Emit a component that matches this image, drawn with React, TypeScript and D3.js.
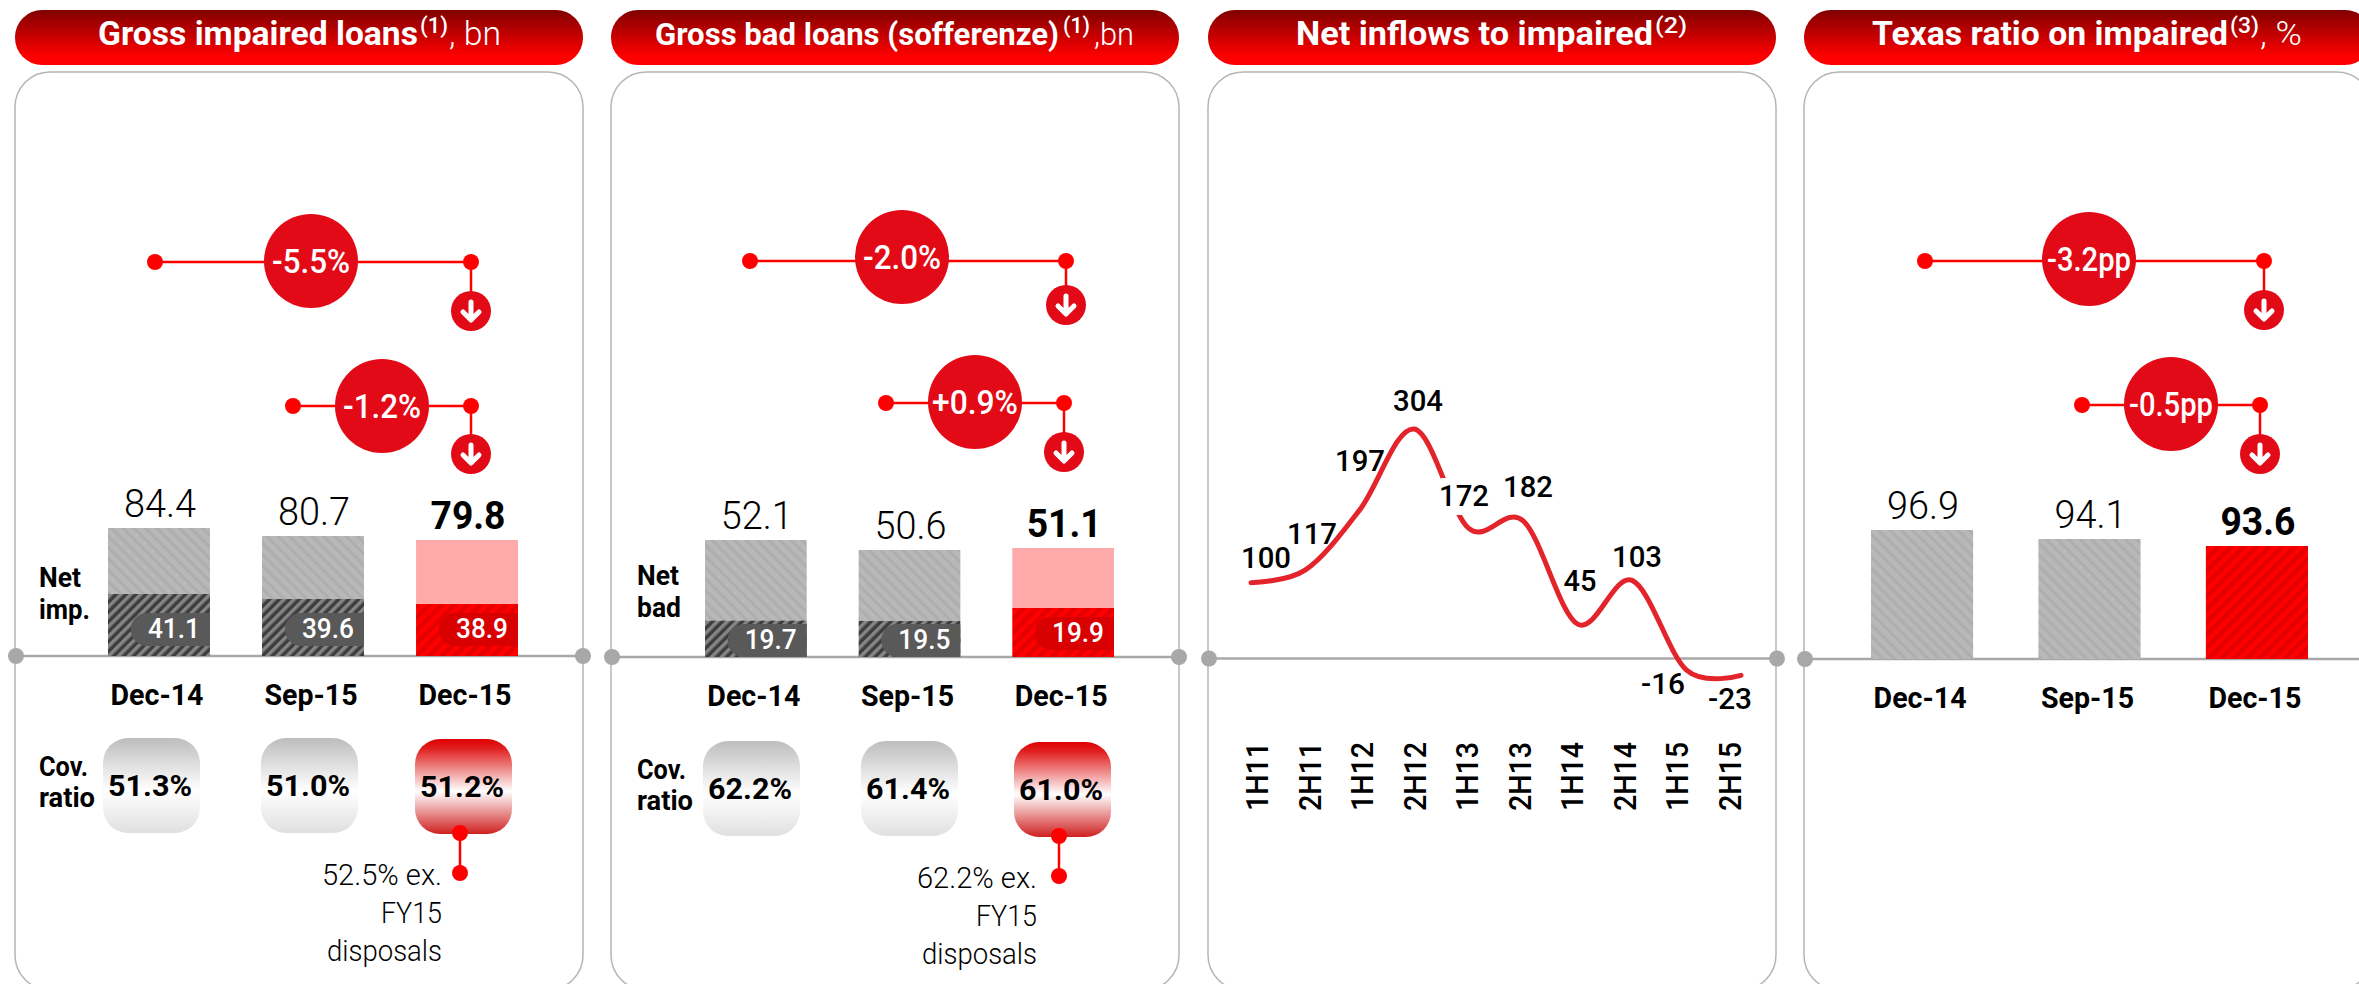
import * as d3 from 'd3';

const WIDTH = 2359;
const HEIGHT = 984;
const FONT = 'Roboto, "Noto Sans", sans-serif';

const RED = '#ff0000';
const BUBBLE = '#e30a17';
const GREY = '#a8a8a8';

// values
const categories = ['Dec-14', 'Sep-15', 'Dec-15'];

const impairedGross = [84.4, 80.7, 79.8];
const impairedNet = [41.1, 39.6, 38.9];
const impairedCoverage = ['51.3%', '51.0%', '51.2%'];
const impairedDeltas = ['-5.5%', '-1.2%'];

const badGross = [52.1, 50.6, 51.1];
const badNet = [19.7, 19.5, 19.9];
const badCoverage = ['62.2%', '61.4%', '61.0%'];
const badDeltas = ['-2.0%', '+0.9%'];

const inflowPeriods = ['1H11', '2H11', '1H12', '2H12', '1H13', '2H13', '1H14', '2H14', '1H15', '2H15'];
const inflowValues = [100, 117, 197, 304, 172, 182, 45, 103, -16, -23];
const inflowLabelAt = [
  [1266, 568], [1312, 544], [1360, 471], [1418, 411], [1464, 506],
  [1528, 497], [1580, 591], [1637, 567], [1663, 694], [1730, 709],
];

const texasRatio = [96.9, 94.1, 93.6];
const texasDeltas = ['-3.2pp', '-0.5pp'];

// the bars in the source slide are not drawn strictly to scale, so each panel maps through knots
const impairedY = d3.scaleLinear()
  .domain([0, 38.9, 39.6, 41.1, 79.8, 80.7, 84.4])
  .range([656, 604, 599, 594, 540, 536, 528]);
const badY = d3.scaleLinear()
  .domain([0, 19.5, 19.7, 19.9, 50.6, 51.1, 52.1])
  .range([657, 621, 620.5, 608, 550, 548, 540]);
const texasY = d3.scaleLinear()
  .domain([0, 93.6, 94.1, 96.9])
  .range([659, 546, 539, 530]);
const inflowY = d3.scaleLinear().domain([0, 304]).range([658, 429]);
const inflowX = d3.scalePoint().domain(inflowPeriods).range([1251, 1741]);
const periodX = d3.scalePoint().domain(inflowPeriods).range([1268, 1741]);

const band = (x0: number, x1: number, padding: number) =>
  d3.scaleBand().domain(categories).range([x0, x1]).paddingInner(padding).paddingOuter(0);

const T = ({ x, y, size, weight = 400, fill = '#000', anchor = 'middle', w, children }: any) => (
  <text
    x={x}
    y={y}
    fontFamily={FONT}
    fontSize={size}
    fontWeight={weight}
    fill={fill}
    textAnchor={anchor}
    textLength={w}
    lengthAdjust={w ? 'spacingAndGlyphs' : undefined}
  >
    {children}
  </text>
);

const Header = ({ x, parts, size = 34 }: any) => (
  <g>
    <rect x={x} y={10} width={568} height={55} rx={27} fill="url(#headerFill)" />
    <text fontFamily={FONT} fill="#fff">
      {parts.map((p: any, i: number) => (
        <tspan
          key={i}
          x={p[1]}
          y={p[4] === 'sup' ? 33 : 45}
          textLength={p[2]}
          lengthAdjust="spacingAndGlyphs"
          fontSize={p[4] === 'sup' ? 22 : size}
          fontWeight={p[3]}
        >
          {p[0]}
        </tspan>
      ))}
    </text>
  </g>
);

const Frame = ({ x, base, dotRight }: any) => (
  <g>
    <rect x={x} y={72} width={568} height={918} rx={35} fill="#fff" stroke="#b5b5b5" strokeWidth={1.5} />
    <line x1={x} x2={dotRight} y1={base} y2={base} stroke={GREY} strokeWidth={2.5} />
    <circle cx={x + 1} cy={base} r={8} fill={GREY} />
    <circle cx={dotRight} cy={base} r={8} fill={GREY} />
  </g>
);

const Delta = ({ label, x0, x1, cx, y, cy, arrowY, textW }: any) => (
  <g>
    <line x1={x0} x2={x1} y1={y} y2={y} stroke={RED} strokeWidth={2.5} />
    <line x1={x1} x2={x1} y1={y} y2={arrowY} stroke={RED} strokeWidth={2.5} />
    <circle cx={x0} cy={y} r={8} fill={RED} />
    <circle cx={x1} cy={y} r={8} fill={RED} />
    <circle cx={cx} cy={cy} r={47} fill={BUBBLE} />
    <T x={cx} y={cy + 12} size={33} weight={500} fill="#fff" w={textW}>{label}</T>
    <circle cx={x1} cy={arrowY} r={20} fill={BUBBLE} />
    <path
      d={`M${x1},${arrowY - 9} V${arrowY + 8} M${x1 - 8},${arrowY + 1} L${x1},${arrowY + 9} L${x1 + 8},${arrowY + 1}`}
      fill="none"
      stroke="#fff"
      strokeWidth={5}
      strokeLinecap="round"
      strokeLinejoin="round"
    />
  </g>
);

const Bars = ({ x, y, gross, net, pillY }: any) => (
  <g>
    {categories.map((c, i) => {
      const left = x(c);
      const w = x.bandwidth();
      const isLast = i === categories.length - 1;
      const base = y(0);
      return (
        <g key={c}>
          {net ? (
            <rect
              x={left}
              y={y(gross[i])}
              width={w}
              height={y(net[i]) - y(gross[i])}
              fill={isLast ? '#ffaaaa' : 'url(#greyHatch)'}
            />
          ) : (
            <rect
              x={left}
              y={y(gross[i])}
              width={w}
              height={base - y(gross[i])}
              fill={isLast ? 'url(#redHatch)' : 'url(#greyHatch)'}
            />
          )}
          {net && (
            <g>
              <rect
                x={left}
                y={y(net[i])}
                width={w}
                height={base - y(net[i])}
                fill={isLast ? 'url(#redHatch)' : 'url(#darkHatch)'}
              />
              <rect
                x={left + w - 79}
                y={pillY[i]}
                width={79}
                height={33}
                rx={16}
                fill={isLast ? '#d80000' : '#595959'}
              />
              <rect
                x={left + w - 20}
                y={pillY[i]}
                width={20}
                height={33}
                fill={isLast ? '#d80000' : '#595959'}
              />
              <T x={left + w - 36} y={pillY[i] + 25} size={27} weight={500} fill="#fff" w={52}>
                {net[i].toFixed(1)}
              </T>
            </g>
          )}
          <T x={left + w / 2 + 1} y={y(gross[i]) - 11} size={39} weight={isLast ? 700 : 300} w={isLast ? 75 : 72}>
            {gross[i].toFixed(1)}
          </T>
          <T x={left + w / 2 - 2} y={base + 49} size={30} weight={700} w={93}>{c}</T>
        </g>
      );
    })}
  </g>
);

const Coverage = ({ values, xs, y, labelX, label, note, noteX, noteRight }: any) => (
  <g>
    {values.map((v: string, i: number) => {
      const last = i === values.length - 1;
      const top = y + (last ? 1 : 0);
      return (
        <g key={v}>
          <rect x={xs[i]} y={top} width={97} height={95} rx={25} fill={last ? 'url(#covRed)' : 'url(#covGrey)'} />
          <T x={xs[i] + 47} y={top + 58} size={30} weight={700} w={84}>{v}</T>
        </g>
      );
    })}
    <T x={labelX} y={y + 38} size={27} weight={700} anchor="start" w={49}>Cov.</T>
    <T x={labelX} y={y + 69} size={27} weight={700} anchor="start" w={56}>ratio</T>
    <T x={labelX} y={label[2]} size={27} weight={700} anchor="start" w={42}>Net</T>
    <T x={labelX} y={label[3]} size={27} weight={700} anchor="start" w={label[4]}>{label[1]}</T>
    <line x1={noteX} x2={noteX} y1={y + 95} y2={y + 135} stroke={RED} strokeWidth={2.5} />
    <circle cx={noteX} cy={y + 95} r={8} fill={RED} />
    <circle cx={noteX} cy={y + 135} r={8} fill={RED} />
    <T x={noteRight} y={y + 147} size={29} weight={300} anchor="end" w={120}>{note}</T>
    <T x={noteRight} y={y + 185} size={29} weight={300} anchor="end" w={61}>FY15</T>
    <T x={noteRight} y={y + 223} size={29} weight={300} anchor="end" w={115}>disposals</T>
  </g>
);

const inflowLine = d3
  .line<number>()
  .x((_, i) => inflowX(inflowPeriods[i]) as number)
  .y((d) => inflowY(d))
  .curve(d3.curveCatmullRom.alpha(0));

const Inflows = () => (
  <g>
    <path d={inflowLine(inflowValues) as string} fill="none" stroke="#e3242b" strokeWidth={5} strokeLinecap="round" />
    <rect x={1441} y={478} width={50} height={37} fill="#fff" />
    {inflowValues.map((v, i) => (
      <T
        key={i}
        x={inflowLabelAt[i][0]}
        y={inflowLabelAt[i][1]}
        size={29}
        weight={500}
        w={String(v).length === 2 ? 33 : v < 0 ? 44 : 50}
      >
        {v}
      </T>
    ))}
    {inflowPeriods.map((p) => (
      <g key={p} transform={`translate(${periodX(p)},811) rotate(-90)`}>
        <T x={0} y={0} size={31} weight={500} anchor="start" w={69}>{p}</T>
      </g>
    ))}
  </g>
);

export default function App() {
  return (
    <svg
      width={WIDTH}
      height={HEIGHT}
      viewBox={`0 0 ${WIDTH} ${HEIGHT}`}
      style={{ position: 'absolute', left: 0, top: 0, display: 'block', background: '#fff' }}
    >
      <defs>
        <linearGradient id="headerFill" x1="0" x2="0" y1="0" y2="1">
          <stop offset="0" stopColor="#800000" />
          <stop offset="0.85" stopColor="#ff0000" />
          <stop offset="1" stopColor="#ff0000" />
        </linearGradient>
        <linearGradient id="covGrey" x1="0" x2="0" y1="0" y2="1">
          <stop offset="0" stopColor="#bdbdbd" />
          <stop offset="0.55" stopColor="#ffffff" />
          <stop offset="1" stopColor="#e0e0e0" />
        </linearGradient>
        <linearGradient id="covRed" x1="0" x2="0" y1="0" y2="1">
          <stop offset="0" stopColor="#e00000" />
          <stop offset="0.1" stopColor="#e02020" />
          <stop offset="0.55" stopColor="#ffffff" />
          <stop offset="1" stopColor="#d02020" />
        </linearGradient>
        <pattern id="greyHatch" width={8} height={8} patternUnits="userSpaceOnUse" patternTransform="rotate(-45)">
          <rect width={8} height={8} fill="#b8b8b8" />
          <rect width={3} height={8} fill="#aeaeae" />
        </pattern>
        <pattern id="darkHatch" width={7} height={7} patternUnits="userSpaceOnUse" patternTransform="rotate(45)">
          <rect width={7} height={7} fill="#3d3d3d" />
          <rect width={3.5} height={7} fill="#858585" />
        </pattern>
        <pattern id="redHatch" width={9} height={9} patternUnits="userSpaceOnUse" patternTransform="rotate(45)">
          <rect width={9} height={9} fill="#ff0000" />
          <rect width={4.5} height={9} fill="#e40000" />
        </pattern>
      </defs>

      {/* gross impaired loans */}
      <Header x={15} parts={[['Gross impaired loans', 98, 320, 700], ['(1)', 420, 28, 500, 'sup'], [', bn', 449, 52, 300]]} />
      <Frame x={15} base={656} dotRight={583} />
      <Delta label={impairedDeltas[0]} x0={155} x1={471} cx={311} y={262} cy={261} arrowY={311} textW={78} />
      <Delta label={impairedDeltas[1]} x0={293} x1={471} cx={382} y={406} cy={406} arrowY={454} textW={78} />
      <Bars x={band(108, 518, 0.338)} y={impairedY} gross={impairedGross} net={impairedNet} pillY={[613, 613, 613]} />
      <Coverage
        values={impairedCoverage}
        xs={[103, 261, 415]}
        y={738}
        labelX={39}
        label={['Net', 'imp.', 587, 619, 51]}
        note="52.5% ex."
        noteX={460}
        noteRight={442}
      />

      {/* gross bad loans */}
      <Header x={611} size={31} parts={[['Gross bad loans (sofferenze)', 655, 404, 700], ['(1)', 1063, 27, 500, 'sup'], [',bn', 1094, 40, 300]]} />
      <Frame x={611} base={657} dotRight={1179} />
      <Delta label={badDeltas[0]} x0={750} x1={1066} cx={902} y={261} cy={257} arrowY={305} textW={78} />
      <Delta label={badDeltas[1]} x0={886} x1={1064} cx={975} y={403} cy={402} arrowY={452} textW={86} />
      <Bars x={band(705, 1114, 0.338)} y={badY} gross={badGross} net={badNet} pillY={[624, 624, 617]} />
      <Coverage
        values={badCoverage}
        xs={[703, 861, 1014]}
        y={741}
        labelX={637}
        label={['Net', 'bad', 585, 617, 44]}
        note="62.2% ex."
        noteX={1059}
        noteRight={1037}
      />

      {/* net inflows */}
      <Header x={1208} parts={[['Net inflows to impaired', 1296, 357, 700], ['(2)', 1655, 32, 500, 'sup']]} />
      <Frame x={1208} base={658.5} dotRight={1777} />
      <Inflows />

      {/* texas ratio */}
      <Header x={1804} parts={[['Texas ratio on impaired', 1872, 356, 700], ['(3)', 2230, 29, 500, 'sup'], [', %', 2260, 42, 300]]} />
      <Frame x={1804} base={659} dotRight={2372} />
      <Delta label={texasDeltas[0]} x0={1925} x1={2264} cx={2089} y={261} cy={259} arrowY={310} textW={84} />
      <Delta label={texasDeltas[1]} x0={2082} x1={2260} cx={2171} y={405} cy={404} arrowY={454} textW={84} />
      <Bars x={band(1871, 2308, 0.39)} y={texasY} gross={texasRatio} />
    </svg>
  );
}
